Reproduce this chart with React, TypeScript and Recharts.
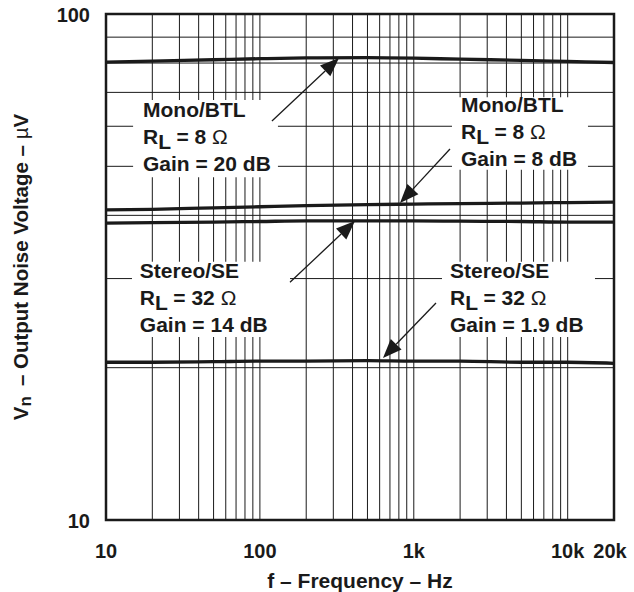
import React from 'react';
import {
  LineChart,
  Line,
  XAxis,
  YAxis,
  CartesianGrid,
  ReferenceArea,
  ReferenceLine,
  ReferenceDot,
} from 'recharts';

// frequency (Hz) and noise voltage (µV) per configuration
const freqs = [10, 20, 50, 100, 200, 500, 1000, 2000, 5000, 10000, 20000];
const monoGain20 = [80.3, 80.7, 81.2, 81.6, 81.9, 82.0, 81.8, 81.4, 81.0, 80.6, 80.2];
const monoGain8 = [41.0, 41.1, 41.4, 41.6, 41.8, 42.0, 42.1, 42.2, 42.3, 42.4, 42.5];
const stereoGain14 = [38.6, 38.7, 38.8, 38.9, 39.0, 39.0, 39.0, 38.95, 38.9, 38.8, 38.8];
const stereoGain19 = [20.5, 20.5, 20.55, 20.6, 20.6, 20.65, 20.6, 20.6, 20.5, 20.5, 20.4];

const xTicks = [10, 100, 1000, 10000, 20000];
const xTickLabels = ['10', '100', '1k', '10k', '20k'];
const yTicks = [10, 100];
const xGrid = [
  20, 30, 40, 50, 60, 70, 80, 90, 100,
  200, 300, 400, 500, 600, 700, 800, 900, 1000,
  2000, 3000, 4000, 5000, 6000, 7000, 8000, 9000, 10000,
];
const yGrid = [20, 30, 40, 50, 60, 70, 80, 90];

// annotations, in data coordinates
const noteHeads = ['Mono/BTL', 'Mono/BTL', 'Stereo/SE', 'Stereo/SE'];
const noteLoads = ['8', '8', '32', '32'];
const noteGains = ['20', '8', '14', '1.9'];
const noteAnchorF = [17.4, 2026, 16.6, 1719];
const noteAnchorV = [62.6, 64.0, 30.1, 30.1];
const boxF = [[15.0, 131], [1771, 13548], [14.75, 157], [1525, 15046]];
const boxV = [[47.6, 67.6], [49.2, 68.5], [23.0, 32.4], [23.0, 32.4]];
const arrowFrom = [[119.8, 61.45], [1719, 54.1], [156.9, 29.5], [1394, 26.85]];
const arrowTo = [[326.6, 81.9], [813.5, 42.3], [414.9, 38.98], [630.8, 20.9]];

const data = freqs.map((f, i) => ({
  f,
  monoGain20: monoGain20[i],
  monoGain8: monoGain8[i],
  stereoGain14: stereoGain14[i],
  stereoGain19: stereoGain19[i],
}));

const FONT = "'Liberation Sans', Arial, Helvetica, sans-serif";
const INK = '#1a1a1a';

const XTick = ({ x, y, payload }: any) => {
  const idx = xTicks.indexOf(payload.value);
  return (
    <text
      x={x + (idx === xTicks.length - 1 ? -4 : 0)}
      y={y + 23}
      textAnchor="middle"
      dominantBaseline="central"
      fontFamily={FONT}
      fontWeight="bold"
      fontSize={20}
      fill={INK}
    >
      {xTickLabels[idx]}
    </text>
  );
};

const YTick = ({ x, y, payload }: any) => (
  <text
    x={x - 8}
    y={y + 1}
    textAnchor="end"
    dominantBaseline="central"
    fontFamily={FONT}
    fontWeight="bold"
    fontSize={20}
    fill={INK}
  >
    {payload.value}
  </text>
);

const YTitle = (props: any) => {
  const vb = props.viewBox;
  const cx = vb.x + 20;
  const cy = vb.y + vb.height / 2;
  return (
    <text
      x={cx}
      y={cy}
      transform={`rotate(-90 ${cx} ${cy})`}
      textAnchor="middle"
      dominantBaseline="central"
      fontFamily={FONT}
      fontWeight="bold"
      fontSize={20.5}
      fill={INK}
    >
      V
      <tspan dy={5} fontSize={17}>n</tspan>
      <tspan dy={-5} dx={10}>– Output Noise Voltage – </tspan>
      <tspan fontWeight="normal">µ</tspan>
      V
    </text>
  );
};

const XTitle = (props: any) => {
  const vb = props.viewBox;
  return (
    <text
      x={vb.x + vb.width / 2}
      y={vb.y + 60}
      textAnchor="middle"
      dominantBaseline="central"
      fontFamily={FONT}
      fontWeight="bold"
      fontSize={21}
      fill={INK}
    >
      f – Frequency – Hz
    </text>
  );
};

const noteShape = (i: number) => (p: any) => {
  const { cx, cy } = p;
  return (
    <text x={cx} y={cy} fontFamily={FONT} fontWeight="bold" fontSize={21} fill={INK}>
      <tspan x={cx} y={cy}>{noteHeads[i]}</tspan>
      <tspan x={cx} y={cy + 27}>R</tspan>
      <tspan dy={5}>L</tspan>
      <tspan dy={-5}>{` = ${noteLoads[i]} `}</tspan>
      <tspan fontWeight="normal">Ω</tspan>
      <tspan x={cx} y={cy + 54}>{`Gain = ${noteGains[i]} dB`}</tspan>
    </text>
  );
};

const arrowShape = (p: any) => {
  const { x1, y1, x2, y2 } = p;
  const a = Math.atan2(y2 - y1, x2 - x1);
  const len = 19;
  const half = 7.5;
  const bx = x2 - len * Math.cos(a);
  const by = y2 - len * Math.sin(a);
  const px = -Math.sin(a) * half;
  const py = Math.cos(a) * half;
  return (
    <g>
      <line x1={x1} y1={y1} x2={bx} y2={by} stroke={INK} strokeWidth={1.3} />
      <polygon points={`${x2},${y2} ${bx + px},${by + py} ${bx - px},${by - py}`} fill={INK} />
    </g>
  );
};

export default function App() {
  return (
    <div style={{ position: 'absolute', left: 0, top: 0 }}>
      <LineChart
        width={634}
        height={592}
        data={data}
        margin={{ top: 14, right: 20, bottom: 0, left: 0 }}
      >
        <CartesianGrid
          stroke={INK}
          strokeWidth={1}
          horizontalValues={yGrid}
          verticalValues={xGrid}
          syncWithTicks={false}
        />
        <XAxis
          dataKey="f"
          type="number"
          scale="log"
          domain={[10, 20000]}
          allowDataOverflow
          ticks={xTicks}
          interval={0}
          height={72}
          axisLine={false}
          tickLine={false}
          tick={<XTick />}
          label={<XTitle />}
        />
        <YAxis
          type="number"
          scale="log"
          domain={[10, 100]}
          allowDataOverflow
          ticks={yTicks}
          interval={0}
          width={106}
          axisLine={false}
          tickLine={false}
          tick={<YTick />}
          label={<YTitle />}
        />
        {boxF.map((bf, i) => (
          <ReferenceArea
            key={`box${i}`}
            x1={bf[0]}
            x2={bf[1]}
            y1={boxV[i][0]}
            y2={boxV[i][1]}
            fill="#ffffff"
            fillOpacity={1}
            stroke="none"
          />
        ))}
        <ReferenceArea
          x1={10}
          x2={20000}
          y1={10}
          y2={100}
          fill="none"
          stroke={INK}
          strokeWidth={2.5}
        />
        <Line dataKey="monoGain20" type="monotone" stroke={INK} strokeWidth={3.3} dot={false} isAnimationActive={false} />
        <Line dataKey="monoGain8" type="monotone" stroke={INK} strokeWidth={3.3} dot={false} isAnimationActive={false} />
        <Line dataKey="stereoGain14" type="monotone" stroke={INK} strokeWidth={3.3} dot={false} isAnimationActive={false} />
        <Line dataKey="stereoGain19" type="monotone" stroke={INK} strokeWidth={3.3} dot={false} isAnimationActive={false} />
        {arrowFrom.map((a, i) => (
          <ReferenceLine
            key={`arrow${i}`}
            segment={[
              { x: a[0], y: a[1] },
              { x: arrowTo[i][0], y: arrowTo[i][1] },
            ]}
            shape={arrowShape}
          />
        ))}
        {noteAnchorF.map((f, i) => (
          <ReferenceDot key={`note${i}`} x={f} y={noteAnchorV[i]} r={0} shape={noteShape(i)} />
        ))}
      </LineChart>
    </div>
  );
}
